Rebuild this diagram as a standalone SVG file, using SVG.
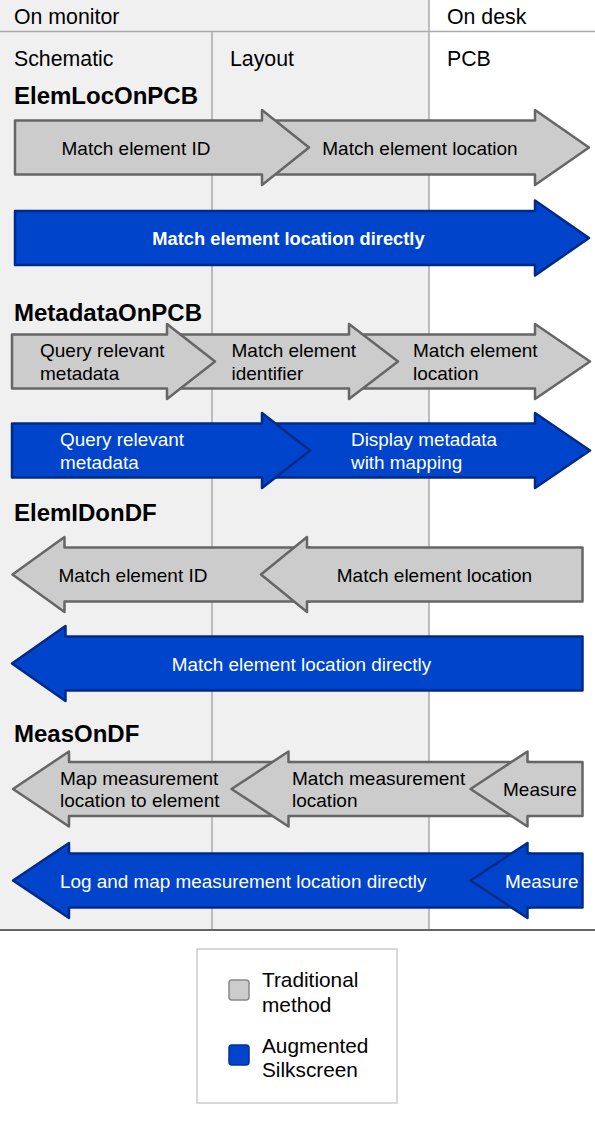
<svg xmlns="http://www.w3.org/2000/svg" width="595" height="1131" viewBox="0 0 595 1131">
<style>
text{font-family:"Liberation Sans",Arial,Helvetica,sans-serif;fill:#000}
.hdr{font-size:21.3px}
.ttl{font-size:24px;font-weight:bold}
.lbl{font-size:19px}
.wl{font-size:18.9px;fill:#fff}
.wb{font-size:18.3px;fill:#fff;font-weight:bold}
.mid{text-anchor:middle}
.leg{font-size:20.8px}
.g{fill:#cccccc;stroke:#666;stroke-width:2.5;stroke-linejoin:round}
.b{fill:#0044cc;stroke:#002a88;stroke-width:2.5;stroke-linejoin:round}
.grid{stroke:#aaa;stroke-width:1.5;fill:none}
</style>
<rect width="595" height="1131" fill="#fff"/>
<rect x="0" y="0" width="429" height="930" fill="#f0f0f0"/>
<g id="grid">
<line class="grid" x1="0" y1="31.5" x2="595" y2="31.5"/>
<line class="grid" x1="212" y1="31.5" x2="212" y2="930"/>
<line class="grid" x1="429" y1="0" x2="429" y2="930"/>
<line x1="0" y1="930" x2="595" y2="930" stroke="#666" stroke-width="2"/>
</g>
<g id="headers">
<text class="hdr" x="14" y="24">On monitor</text>
<text class="hdr" x="447" y="24">On desk</text>
<text class="hdr" x="14" y="66">Schematic</text>
<text class="hdr" x="230" y="66">Layout</text>
<text class="hdr" x="447" y="66">PCB</text>
</g>
<g id="titles">
<text class="ttl" x="14" y="104">ElemLocOnPCB</text>
<text class="ttl" x="14" y="321">MetadataOnPCB</text>
<text class="ttl" x="14" y="521">ElemIDonDF</text>
<text class="ttl" x="14" y="741.5">MeasOnDF</text>
</g>
<g id="connectors"></g>
<g id="elemloc-location">
<path class="g" d="M262,120.5 H535 V110 L589,147.5 L535,185 V174.5 H262 Z"/>
<text class="lbl mid" x="420" y="154.5">Match element location</text>
</g>
<g id="elemloc-id">
<path class="g" d="M15,120.5 H262 V110 L309,147.5 L262,185 V174.5 H15 Z"/>
<text class="lbl mid" x="136" y="154.5">Match element ID</text>
</g>
<g id="elemloc-direct">
<path class="b" d="M15,211 H535 V200.5 L589,238 L535,275.5 V265 H15 Z"/>
<text class="wb mid" x="288.5" y="245">Match element location directly</text>
</g>
<g id="meta-location">
<path class="g" d="M349,334.5 H535 V324 L590,361.5 L535,399 V388.5 H349 Z"/>
<text class="lbl" x="413" y="357">Match element</text>
<text class="lbl" x="413" y="379.5">location</text>
</g>
<g id="meta-identifier">
<path class="g" d="M167,334.5 H349 V324 L398,361.5 L349,399 V388.5 H167 Z"/>
<text class="lbl" x="231.5" y="357">Match element</text>
<text class="lbl" x="231.5" y="379.5">identifier</text>
</g>
<g id="meta-query">
<path class="g" d="M12,334.5 H167 V324 L215,361.5 L167,399 V388.5 H12 Z"/>
<text class="lbl" x="40" y="357">Query relevant</text>
<text class="lbl" x="40" y="379.5">metadata</text>
</g>
<g id="meta-display">
<path class="b" d="M262,423.5 H535 V413 L590,450.5 L535,488 V477.5 H262 Z"/>
<text class="wl" x="351" y="446">Display metadata</text>
<text class="wl" x="351" y="468.5">with mapping</text>
</g>
<g id="meta-query-aug">
<path class="b" d="M12,423.5 H262 V413 L310,450.5 L262,488 V477.5 H12 Z"/>
<text class="wl" x="60" y="446">Query relevant</text>
<text class="wl" x="60" y="468.5">metadata</text>
</g>
<g id="elemid-id">
<path class="g" d="M12.5,574.5 L64.5,537 V547.5 H310 V601.5 H64.5 V612 Z"/>
<text class="lbl mid" x="133" y="581.5">Match element ID</text>
</g>
<g id="elemid-location">
<path class="g" d="M261,574.5 L307,537 V547.5 H582.5 V601.5 H307 V612 Z"/>
<text class="lbl mid" x="434.5" y="581.5">Match element location</text>
</g>
<g id="elemid-direct">
<path class="b" d="M12,663.5 L65.5,626 V636.5 H582.5 V690.5 H65.5 V701 Z"/>
<text class="wl mid" x="301.5" y="670.5">Match element location directly</text>
</g>
<g id="meas-map">
<path class="g" d="M13,789 L69,751.5 V762 H290 V816 H69 V826.5 Z"/>
<text class="lbl" x="60" y="784.5">Map measurement</text>
<text class="lbl" x="60" y="807">location to element</text>
</g>
<g id="meas-match">
<path class="g" d="M231.5,789 L288.5,751.5 V762 H530 V816 H288.5 V826.5 Z"/>
<text class="lbl" x="292" y="784.5">Match measurement</text>
<text class="lbl" x="292" y="807">location</text>
</g>
<g id="meas-measure">
<path class="g" d="M470.5,789 L527.5,751.5 V762 H582.5 V816 H527.5 V826.5 Z"/>
<text class="lbl" x="503" y="796">Measure</text>
</g>
<g id="meas-log">
<path class="b" d="M13,880.5 L69,843 V853.5 H530 V907.5 H69 V918 Z"/>
<text class="wl" x="60" y="887.5">Log and map measurement location directly</text>
</g>
<g id="meas-measure-aug">
<path class="b" d="M470.5,880.5 L527.5,843 V853.5 H582.5 V907.5 H527.5 V918 Z"/>
<text class="wl" x="505" y="887.5">Measure</text>
</g>
<g id="legend">
<rect x="197" y="949" width="200" height="154" fill="#fff" stroke="#ccc" stroke-width="1.5"/>
<rect x="229" y="980" width="20" height="20" rx="3" fill="#ccc" stroke="#888" stroke-width="1.5"/>
<rect x="229" y="1045" width="20" height="20" rx="3" fill="#0044cc" stroke="#003399" stroke-width="1.5"/>
<text class="leg" x="262" y="987">Traditional</text>
<text class="leg" x="262" y="1011.5">method</text>
<text class="leg" x="262" y="1053">Augmented</text>
<text class="leg" x="262" y="1077">Silkscreen</text>
</g>
</svg>
